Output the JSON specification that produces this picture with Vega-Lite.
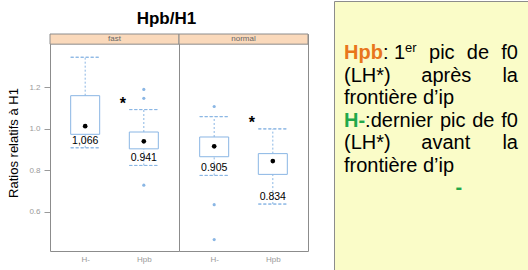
{
  "$schema": "https://vega.github.io/schema/vega-lite/v6.json",
  "background": "white",
  "padding": {"left": 7, "top": 0, "right": 0, "bottom": 0},
  "spacing": 24,
  "config": {
    "font": "Liberation Sans",
    "axisY": {"labelFontSize": 8, "labelColor": "#9a9a9a", "tickColor": "#9a9a9a", "tickSize": 6, "labelPadding": 4, "domain": false, "grid": false, "titleFontSize": 13, "titleFontWeight": "normal", "titleColor": "black", "titlePadding": 8},
    "axisX": {"labelFontSize": 8, "labelColor": "#9a9a9a", "ticks": false, "domain": false, "grid": false, "labelPadding": 4, "labelAngle": 0}
  },
  "hconcat": [
    {
      "spacing": 0,
      "vconcat": [
        {
          "width": 1,
          "height": 9,
          "view": {"stroke": null},
          "data": {"values": []},
          "mark": "point"
        },
        {
          "title": {"text": "Hpb/H1", "fontSize": 17, "fontWeight": "bold", "color": "black", "anchor": "middle", "frame": "bounds", "dx": 8, "offset": 5},
          "data": {"values": [
            {"speed": "fast", "group": "H-", "kind": "box", "lo": 0.909, "q1": 0.974, "med": 1.013, "q3": 1.16, "hi": 1.345, "label": "1,066", "sig": ""},
            {"speed": "fast", "group": "Hpb", "kind": "box", "lo": 0.824, "q1": 0.904, "med": 0.94, "q3": 0.985, "hi": 1.093, "label": "0.941", "sig": "*"},
            {"speed": "normal", "group": "H-", "kind": "box", "lo": 0.776, "q1": 0.866, "med": 0.916, "q3": 0.961, "hi": 1.059, "label": "0.905", "sig": ""},
            {"speed": "normal", "group": "Hpb", "kind": "box", "lo": 0.638, "q1": 0.781, "med": 0.845, "q3": 0.881, "hi": 1.0, "label": "0.834", "sig": "*"},
            {"speed": "fast", "group": "Hpb", "kind": "out", "val": 1.19},
            {"speed": "fast", "group": "Hpb", "kind": "out", "val": 1.147},
            {"speed": "fast", "group": "Hpb", "kind": "out", "val": 0.729},
            {"speed": "normal", "group": "H-", "kind": "out", "val": 1.108},
            {"speed": "normal", "group": "H-", "kind": "out", "val": 0.635},
            {"speed": "normal", "group": "H-", "kind": "out", "val": 0.467}
          ]},
          "facet": {"column": {"field": "speed", "type": "nominal", "header": null, "sort": ["fast", "normal"]}},
          "spacing": 0,
          "bounds": "flush",
          "spec": {
            "width": 129,
            "height": 217,
            "view": {"stroke": "#8c8c8c", "fill": "white"},
            "layer": [
              {
                "transform": [{"filter": "datum.kind == 'box' && datum.group == 'H-'"}],
                "mark": {"type": "rect", "fill": "#fad9bb", "stroke": "#8c8c8c", "strokeWidth": 1},
                "encoding": {
                  "y": {"datum": 1.408, "type": "quantitative", "scale": {"domain": [0.412, 1.457], "nice": false, "zero": false}},
                  "y2": {"datum": 1.457}
                }
              },
              {
                "transform": [{"filter": "datum.kind == 'box' && datum.group == 'H-'"}],
                "mark": {"type": "text", "fontSize": 8, "color": "#666666", "baseline": "middle"},
                "encoding": {
                  "y": {"datum": 1.4325, "type": "quantitative", "scale": {"domain": [0.412, 1.457], "nice": false, "zero": false}},
                  "text": {"field": "speed"}
                }
              },
              {
                "transform": [{"filter": "datum.kind == 'box'"}],
                "mark": {"type": "rule", "color": "#8ab6e4", "strokeDash": [2, 2], "strokeWidth": 1},
                "encoding": {
                  "x": {"field": "group", "type": "nominal", "scale": {"type": "point", "padding": 0.6, "domain": ["H-", "Hpb"]}, "title": null},
                  "y": {"field": "q3", "type": "quantitative", "scale": {"domain": [0.412, 1.457], "nice": false, "zero": false}, "title": "Ratios relatifs à H1", "axis": {"values": [0.6, 0.8, 1.0, 1.2], "format": ".1f"}},
                  "y2": {"field": "hi"}
                }
              },
              {
                "transform": [{"filter": "datum.kind == 'box'"}],
                "mark": {"type": "rule", "color": "#8ab6e4", "strokeDash": [2, 2], "strokeWidth": 1},
                "encoding": {
                  "x": {"field": "group", "type": "nominal", "scale": {"type": "point", "padding": 0.6, "domain": ["H-", "Hpb"]}, "title": null},
                  "y": {"field": "lo", "type": "quantitative", "scale": {"domain": [0.412, 1.457], "nice": false, "zero": false}},
                  "y2": {"field": "q1"}
                }
              },
              {
                "transform": [{"filter": "datum.kind == 'box'"}],
                "mark": {"type": "bar", "width": 29, "fill": "transparent", "stroke": "#8ab6e4", "strokeDash": [3, 2], "strokeWidth": 1},
                "encoding": {
                  "x": {"field": "group", "type": "nominal", "scale": {"type": "point", "padding": 0.6, "domain": ["H-", "Hpb"]}, "title": null},
                  "y": {"field": "hi", "type": "quantitative", "scale": {"domain": [0.412, 1.457], "nice": false, "zero": false}},
                  "y2": {"field": "hi"}
                }
              },
              {
                "transform": [{"filter": "datum.kind == 'box'"}],
                "mark": {"type": "bar", "width": 29, "fill": "transparent", "stroke": "#8ab6e4", "strokeDash": [3, 2], "strokeWidth": 1},
                "encoding": {
                  "x": {"field": "group", "type": "nominal", "scale": {"type": "point", "padding": 0.6, "domain": ["H-", "Hpb"]}, "title": null},
                  "y": {"field": "lo", "type": "quantitative", "scale": {"domain": [0.412, 1.457], "nice": false, "zero": false}},
                  "y2": {"field": "lo"}
                }
              },
              {
                "transform": [{"filter": "datum.kind == 'box'"}],
                "mark": {"type": "bar", "width": 29, "fill": "white", "stroke": "#8ab6e4", "strokeWidth": 1},
                "encoding": {
                  "x": {"field": "group", "type": "nominal", "scale": {"type": "point", "padding": 0.6, "domain": ["H-", "Hpb"]}, "title": null},
                  "y": {"field": "q1", "type": "quantitative", "scale": {"domain": [0.412, 1.457], "nice": false, "zero": false}},
                  "y2": {"field": "q3"}
                }
              },
              {
                "transform": [{"filter": "datum.kind == 'box'"}],
                "mark": {"type": "point", "filled": true, "color": "black", "size": 22, "opacity": 1},
                "encoding": {
                  "x": {"field": "group", "type": "nominal", "scale": {"type": "point", "padding": 0.6, "domain": ["H-", "Hpb"]}, "title": null},
                  "y": {"field": "med", "type": "quantitative", "scale": {"domain": [0.412, 1.457], "nice": false, "zero": false}}
                }
              },
              {
                "transform": [{"filter": "datum.kind == 'out'"}],
                "mark": {"type": "point", "filled": true, "color": "#8ab6e4", "size": 10, "opacity": 1},
                "encoding": {
                  "x": {"field": "group", "type": "nominal", "scale": {"type": "point", "padding": 0.6, "domain": ["H-", "Hpb"]}, "title": null},
                  "y": {"field": "val", "type": "quantitative", "scale": {"domain": [0.412, 1.457], "nice": false, "zero": false}}
                }
              },
              {
                "transform": [{"filter": "datum.kind == 'box'"}],
                "mark": {"type": "text", "fontSize": 10.5, "color": "black", "baseline": "middle", "dy": -7},
                "encoding": {
                  "x": {"field": "group", "type": "nominal", "scale": {"type": "point", "padding": 0.6, "domain": ["H-", "Hpb"]}, "title": null},
                  "y": {"field": "lo", "type": "quantitative", "scale": {"domain": [0.412, 1.457], "nice": false, "zero": false}},
                  "text": {"field": "label"}
                }
              },
              {
                "transform": [{"filter": "datum.sig == '*'"}],
                "mark": {"type": "text", "fontSize": 16, "fontWeight": "bold", "color": "black", "baseline": "alphabetic", "dx": -21, "dy": -1},
                "encoding": {
                  "x": {"field": "group", "type": "nominal", "scale": {"type": "point", "padding": 0.6, "domain": ["H-", "Hpb"]}, "title": null},
                  "y": {"field": "hi", "type": "quantitative", "scale": {"domain": [0.412, 1.457], "nice": false, "zero": false}},
                  "text": {"field": "sig"}
                }
              }
            ]
          }
        }
      ]
    },
    {
      "width": 195,
      "height": 270,
      "view": {"fill": "#fafcc8", "stroke": "#8c8c8c"},
      "data": {"values": [
        {"line": 1, "slot": "key1", "t": "Hpb"},
        {"line": 1, "slot": "a1", "t": ": 1"},
        {"line": 1, "slot": "sup", "t": "er"},
        {"line": 1, "slot": "p1", "t": "pic"},
        {"line": 1, "slot": "d1", "t": "de"},
        {"line": 1, "slot": "R", "t": "f0"},
        {"line": 2, "slot": "L", "t": "(LH*)"},
        {"line": 2, "slot": "M", "t": "après"},
        {"line": 2, "slot": "R", "t": "la"},
        {"line": 3, "slot": "L", "t": "frontière d’ip"},
        {"line": 4, "slot": "key4", "t": "H-"},
        {"line": 4, "slot": "a4", "t": ":dernier"},
        {"line": 4, "slot": "p4", "t": "pic"},
        {"line": 4, "slot": "d4", "t": "de"},
        {"line": 4, "slot": "R", "t": "f0"},
        {"line": 5, "slot": "L", "t": "(LH*)"},
        {"line": 5, "slot": "M", "t": "avant"},
        {"line": 5, "slot": "R", "t": "la"},
        {"line": 6, "slot": "L", "t": "frontière d’ip"},
        {"line": 7, "slot": "dash", "t": "-"}
      ]},
      "encoding": {
        "y": {"field": "line", "type": "quantitative", "scale": {"domain": [-1.578, 10.422], "reverse": true, "nice": false, "zero": false}, "axis": null},
        "text": {"field": "t"}
      },
      "layer": [
        {"transform": [{"filter": "datum.slot == 'key1'"}], "mark": {"type": "text", "align": "left", "baseline": "alphabetic", "fontSize": 20, "fontWeight": "bold", "color": "#e8761c"}, "encoding": {"x": {"datum": 0, "type": "quantitative", "scale": {"domain": [-0.0575, 1.0632], "nice": false, "zero": false}, "axis": null}}},
        {"transform": [{"filter": "datum.slot == 'a1'"}], "mark": {"type": "text", "align": "left", "baseline": "alphabetic", "fontSize": 20, "color": "black"}, "encoding": {"x": {"datum": 0.2236, "type": "quantitative", "scale": {"domain": [-0.0575, 1.0632], "nice": false, "zero": false}, "axis": null}}},
        {"transform": [{"filter": "datum.slot == 'sup'"}], "mark": {"type": "text", "align": "left", "baseline": "alphabetic", "fontSize": 13, "color": "black", "dy": -7}, "encoding": {"x": {"datum": 0.351, "type": "quantitative", "scale": {"domain": [-0.0575, 1.0632], "nice": false, "zero": false}, "axis": null}}},
        {"transform": [{"filter": "datum.slot == 'p1'"}], "mark": {"type": "text", "align": "left", "baseline": "alphabetic", "fontSize": 20, "color": "black"}, "encoding": {"x": {"datum": 0.4885, "type": "quantitative", "scale": {"domain": [-0.0575, 1.0632], "nice": false, "zero": false}, "axis": null}}},
        {"transform": [{"filter": "datum.slot == 'd1'"}], "mark": {"type": "text", "align": "left", "baseline": "alphabetic", "fontSize": 20, "color": "black"}, "encoding": {"x": {"datum": 0.706, "type": "quantitative", "scale": {"domain": [-0.0575, 1.0632], "nice": false, "zero": false}, "axis": null}}},
        {"transform": [{"filter": "datum.slot == 'R'"}], "mark": {"type": "text", "align": "right", "baseline": "alphabetic", "fontSize": 20, "color": "black"}, "encoding": {"x": {"datum": 1, "type": "quantitative", "scale": {"domain": [-0.0575, 1.0632], "nice": false, "zero": false}, "axis": null}}},
        {"transform": [{"filter": "datum.slot == 'L'"}], "mark": {"type": "text", "align": "left", "baseline": "alphabetic", "fontSize": 20, "color": "black"}, "encoding": {"x": {"datum": 0, "type": "quantitative", "scale": {"domain": [-0.0575, 1.0632], "nice": false, "zero": false}, "axis": null}}},
        {"transform": [{"filter": "datum.slot == 'M'"}], "mark": {"type": "text", "align": "left", "baseline": "alphabetic", "fontSize": 20, "color": "black"}, "encoding": {"x": {"datum": 0.444, "type": "quantitative", "scale": {"domain": [-0.0575, 1.0632], "nice": false, "zero": false}, "axis": null}}},
        {"transform": [{"filter": "datum.slot == 'key4'"}], "mark": {"type": "text", "align": "left", "baseline": "alphabetic", "fontSize": 20, "fontWeight": "bold", "color": "#21a84a"}, "encoding": {"x": {"datum": 0, "type": "quantitative", "scale": {"domain": [-0.0575, 1.0632], "nice": false, "zero": false}, "axis": null}}},
        {"transform": [{"filter": "datum.slot == 'a4'"}], "mark": {"type": "text", "align": "left", "baseline": "alphabetic", "fontSize": 20, "color": "black"}, "encoding": {"x": {"datum": 0.1213, "type": "quantitative", "scale": {"domain": [-0.0575, 1.0632], "nice": false, "zero": false}, "axis": null}}},
        {"transform": [{"filter": "datum.slot == 'p4'"}], "mark": {"type": "text", "align": "left", "baseline": "alphabetic", "fontSize": 20, "color": "black"}, "encoding": {"x": {"datum": 0.551, "type": "quantitative", "scale": {"domain": [-0.0575, 1.0632], "nice": false, "zero": false}, "axis": null}}},
        {"transform": [{"filter": "datum.slot == 'd4'"}], "mark": {"type": "text", "align": "left", "baseline": "alphabetic", "fontSize": 20, "color": "black"}, "encoding": {"x": {"datum": 0.737, "type": "quantitative", "scale": {"domain": [-0.0575, 1.0632], "nice": false, "zero": false}, "axis": null}}},
        {"transform": [{"filter": "datum.slot == 'dash'"}], "mark": {"type": "text", "align": "center", "baseline": "alphabetic", "fontSize": 20, "fontWeight": "bold", "color": "#21a84a"}, "encoding": {"x": {"datum": 0.66, "type": "quantitative", "scale": {"domain": [-0.0575, 1.0632], "nice": false, "zero": false}, "axis": null}}}
      ]
    }
  ]
}
